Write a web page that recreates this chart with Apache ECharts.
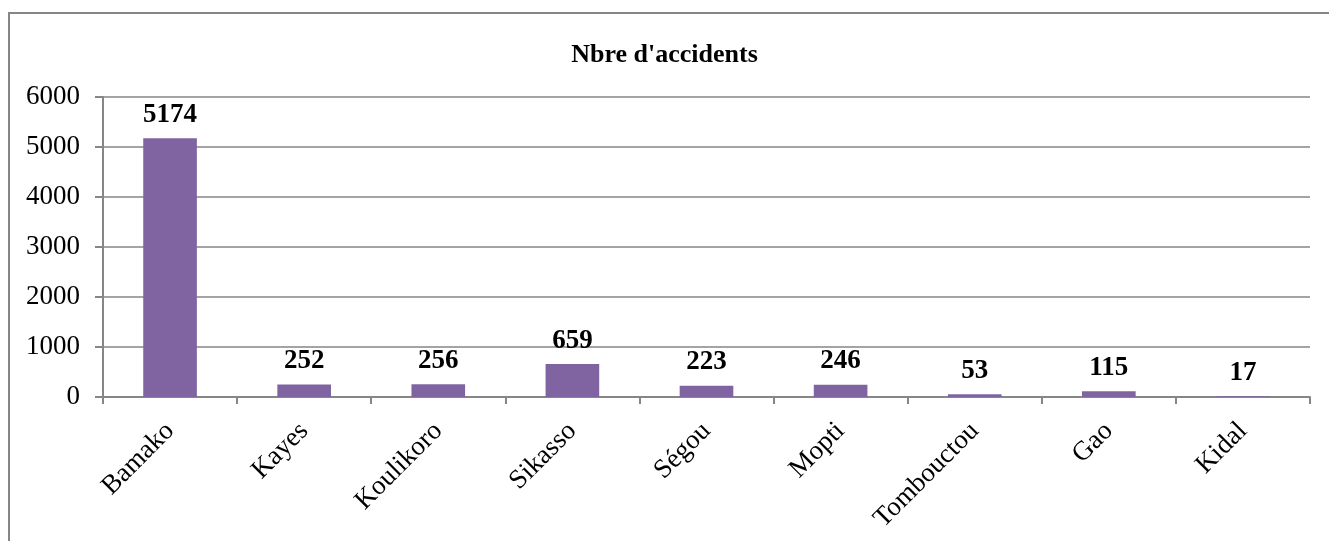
<!DOCTYPE html>
<html>
<head>
<meta charset="utf-8">
<script src="https://cdn.jsdelivr.net/npm/echarts@6/dist/echarts.min.js"></script>
<style>
html,body{margin:0;padding:0;background:#fff;}
#chart{width:1329px;height:541px;}
</style>
</head>
<body>
<div id="chart"></div>
<script>
const categories = ['Bamako','Kayes','Koulikoro','Sikasso','Ségou','Mopti','Tombouctou','Gao','Kidal'];
const accidents = [5174, 252, 256, 659, 223, 246, 53, 115, 17];
const titleText = "Nbre d'accidents";

const chart = echarts.init(document.getElementById('chart'), null, {renderer:'canvas'});
const font = 'Liberation Serif';
chart.setOption({
  animation: false,
  backgroundColor: '#fff',
  title: {
    text: titleText,
    left: 'center',
    top: 37,
    textStyle: {fontFamily: font, fontWeight: 'bold', fontSize: 26, color: '#000'}
  },
  graphic: [{
    type: 'rect',
    shape: {x: 9, y: 13, width: 1340, height: 560},
    style: {fill: 'none', stroke: '#868686', lineWidth: 2},
    silent: true
  }],
  grid: {left: 103, right: 19, top: 97, bottom: 144, containLabel: false},
  xAxis: {
    type: 'category',
    data: categories,
    axisLine: {lineStyle: {color: '#868686', width: 2}},
    axisTick: {show: true, length: 7, lineStyle: {color: '#868686', width: 2}, alignWithLabel: false},
    axisLabel: {rotate: 45, margin: 30, fontFamily: font, fontSize: 27, color: '#000'}
  },
  yAxis: {
    type: 'value',
    min: 0, max: 6000, interval: 1000,
    axisLine: {show: true, lineStyle: {color: '#868686', width: 2}},
    axisTick: {show: true, length: 8, lineStyle: {color: '#868686', width: 2}},
    splitLine: {show: true, lineStyle: {color: '#868686', width: 1.5}},
    axisLabel: {margin: 23, fontFamily: font, fontSize: 27, color: '#000', formatter: v => String(v)}
  },
  series: [{
    type: 'bar',
    data: accidents,
    barWidth: '40%',
    itemStyle: {color: '#8064A2'},
    label: {
      show: true, position: 'top', distance: 10,
      fontFamily: font, fontWeight: 'bold', fontSize: 27, color: '#000'
    }
  }]
});
</script>
</body>
</html>
